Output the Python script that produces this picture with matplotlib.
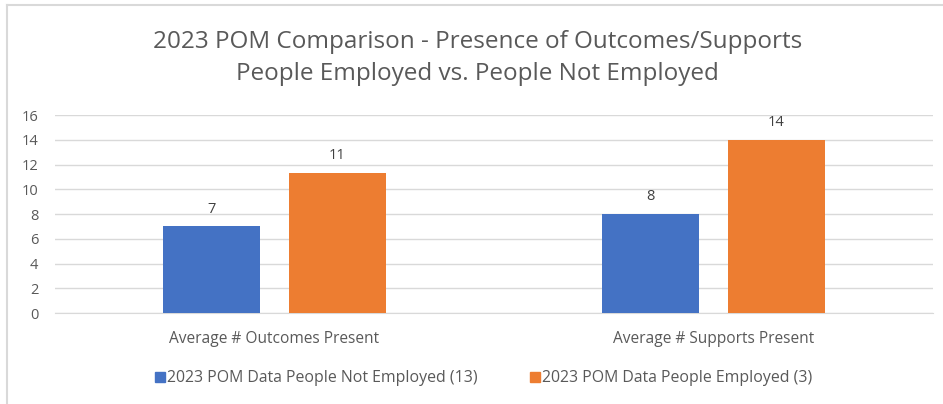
import matplotlib
matplotlib.use('Agg')
import matplotlib.pyplot as plt
from matplotlib.lines import Line2D
import numpy as np

categories = ['Average # Outcomes Present', 'Average # Supports Present']
not_employed = [7.0, 8.0]
employed = [11.3, 14.0]
series_names = ['2023 POM Data People Not Employed (13)', '2023 POM Data People Employed (3)']

blue = '#4472c4'
orange = '#ed7d31'
text_gray = '#595959'
grid_gray = '#d9d9d9'

plt.rcParams['font.family'] = ['Open Sans', 'DejaVu Sans']

fig = plt.figure(figsize=(9.43, 4.04), dpi=100)
ax = fig.add_axes([0.0583, 0.2252, 0.9311, 0.4901])

x = np.arange(len(categories))
w = 0.223
off = 0.1435
b1 = ax.bar(x - off, not_employed, w, color=blue, label=series_names[0], zorder=3)
b2 = ax.bar(x + off, employed, w, color=orange, label=series_names[1], zorder=3)
ax.bar_label(b1, fmt='{:.0f}', padding=7, fontsize=10.5, color='#404040')
ax.bar_label(b2, fmt='{:.0f}', padding=7, fontsize=10.5, color='#404040')

ax.set_xlim(-0.5, 1.5)
ax.set_ylim(0, 16)
ax.set_yticks(range(0, 17, 2))
ax.set_xticks(x)
ax.set_xticklabels(categories)
ax.yaxis.grid(True, color=grid_gray, lw=1, zorder=0)
for s in ['top', 'right', 'left']:
    ax.spines[s].set_visible(False)
ax.spines['bottom'].set_color(grid_gray)
ax.tick_params(axis='both', length=0, labelcolor=text_gray)
ax.tick_params(axis='y', pad=12, labelsize=10.5)
ax.tick_params(axis='x', pad=13, labelsize=11.2)

fig.text(0.506, 0.856, '2023 POM Comparison - Presence of Outcomes/Supports\nPeople Employed vs. People Not Employed',
         ha='center', va='center', fontsize=17.5, color=text_gray, linespacing=1.45)

handles = [Line2D([], [], marker='s', ls='', color=c, markersize=7) for c in (blue, orange)]
fig.legend(handles, series_names, loc='center', bbox_to_anchor=(0.512, 0.064), ncol=2, frameon=False,
           fontsize=11.4, labelcolor=text_gray, handletextpad=0.05, columnspacing=3.2, handlelength=0.8)

# chart frame edges
fig.add_artist(Line2D([0.0069, 0.0069], [0, 0.9864], color=grid_gray, lw=1.5))
fig.add_artist(Line2D([0.0069, 1], [0.9864, 0.9864], color=grid_gray, lw=1.5))

fig.savefig('out.png', dpi=100)
